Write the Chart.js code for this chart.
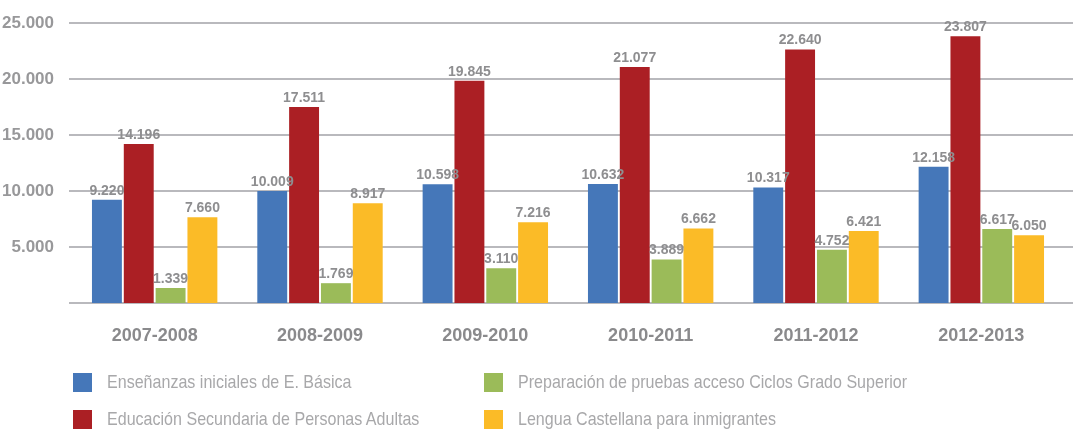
<!DOCTYPE html>
<html>
<head>
<meta charset="utf-8">
<script src="https://cdn.jsdelivr.net/npm/chart.js@4"></script>
<style>
  html, body { margin: 0; padding: 0; background: #fff; }
  #wrap { position: relative; width: 1077px; height: 431px; }
  #legend { position: absolute; left: 0; top: 0; width: 1077px; height: 431px; pointer-events: none; }
  .leg-item { position: absolute; display: flex; align-items: center; font-family: "Liberation Sans", Arial, sans-serif; font-size: 19px; color: #a8a8aa; white-space: nowrap; }
  .leg-box { width: 19px; height: 19px; margin-right: 15px; flex: none; }
  .leg-text { display: inline-block; transform: scaleX(0.845); transform-origin: left center; }
</style>
</head>
<body>
<div id="wrap">
  <canvas id="chart" width="1077" height="431"></canvas>
  <div id="legend"></div>
</div>
<script>
// ── DATI ─────────────────────────────────────
const cursos = ['2007-2008', '2008-2009', '2009-2010', '2010-2011', '2011-2012', '2012-2013'];

const basica     = [9220, 10009, 10598, 10632, 10317, 12158];
const secundaria = [14196, 17511, 19845, 21077, 22640, 23807];
const pruebas    = [1339, 1769, 3110, 3889, 4752, 6617];
const castellana = [7660, 8917, 7216, 6662, 6421, 6050];

const seriesNames = [
  'Enseñanzas iniciales de E. Básica',
  'Educación Secundaria de Personas Adultas',
  'Preparación de pruebas acceso Ciclos Grado Superior',
  'Lengua Castellana para inmigrantes'
];
const seriesColors = ['#4577b9', '#ab1f24', '#9bbb59', '#fbbb27'];

const yTicks = [0, 5000, 10000, 15000, 20000, 25000];

const FONT = '"Liberation Sans", Arial, sans-serif';

function fmt(n) {
  return String(n).replace(/\B(?=(\d{3})+(?!\d))/g, '.');
}

// linee orizzontali un po' più larghe dell'area barre
const gridLines = {
  id: 'gridLines',
  beforeDatasetsDraw(chart) {
    const ctx = chart.ctx;
    const y = chart.scales.y;
    const a = chart.chartArea;
    ctx.save();
    ctx.strokeStyle = '#b9b9bd';
    ctx.lineWidth = 2;
    y.ticks.forEach(t => {
      const py = Math.round(y.getPixelForValue(t.value));
      ctx.beginPath();
      ctx.moveTo(a.left - 3, py);
      ctx.lineTo(a.right + 9, py);
      ctx.stroke();
    });
    ctx.restore();
  }
};

// etichette sopra le barre
const valueLabels = {
  id: 'valueLabels',
  afterDatasetsDraw(chart) {
    const ctx = chart.ctx;
    ctx.save();
    ctx.font = 'bold 14px ' + FONT;
    ctx.fillStyle = '#8e8e90';
    ctx.textAlign = 'center';
    ctx.textBaseline = 'bottom';
    chart.data.datasets.forEach((ds, i) => {
      chart.getDatasetMeta(i).data.forEach((bar, j) => {
        ctx.fillText(fmt(ds.data[j]), bar.x, bar.y - 2);
      });
    });
    ctx.restore();
  }
};

const seriesData = [basica, secundaria, pruebas, castellana];

const chart = new Chart(document.getElementById('chart'), {
  type: 'bar',
  data: {
    labels: cursos,
    datasets: seriesData.map((d, i) => ({
      label: seriesNames[i],
      data: d,
      backgroundColor: seriesColors[i],
      borderWidth: 0,
      barPercentage: 0.94,
      categoryPercentage: 0.77
    }))
  },
  options: {
    responsive: false,
    animation: false,
    layout: { padding: { top: 23, right: 13, bottom: 80, left: 0 } },
    plugins: {
      legend: { display: false },
      tooltip: { enabled: false }
    },
    scales: {
      x: {
        grid: { display: false },
        border: { display: false },
        ticks: { color: '#8a8a8c', font: { family: FONT, size: 18, weight: 'bold' }, padding: 14 },
        afterFit(scale) { scale.height = 48; }
      },
      y: {
        min: 0,
        max: 25000,
        afterBuildTicks(scale) { scale.ticks = yTicks.map(v => ({ value: v })); },
        grid: { display: false },
        border: { display: false },
        ticks: {
          color: '#98989a',
          font: { family: FONT, size: 17, weight: 'bold' },
          padding: 10,
          callback: v => v === 0 ? '' : fmt(v)
        },
        afterFit(scale) { scale.width = 72; }
      }
    }
  },
  plugins: [gridLines, valueLabels]
});

// legenda HTML (2 colonne)
const legendPos = [
  { x: 73, y: 371 },
  { x: 73, y: 408 },
  { x: 484, y: 371 },
  { x: 484, y: 408 }
];
const legend = document.getElementById('legend');
seriesNames.forEach((name, i) => {
  const el = document.createElement('div');
  el.className = 'leg-item';
  el.style.left = legendPos[i].x + 'px';
  el.style.top = legendPos[i].y + 'px';
  el.innerHTML = '<span class="leg-box" style="background:' + seriesColors[i] + '"></span><span class="leg-text">' + name + '</span>';
  legend.appendChild(el);
});
</script>
</body>
</html>
